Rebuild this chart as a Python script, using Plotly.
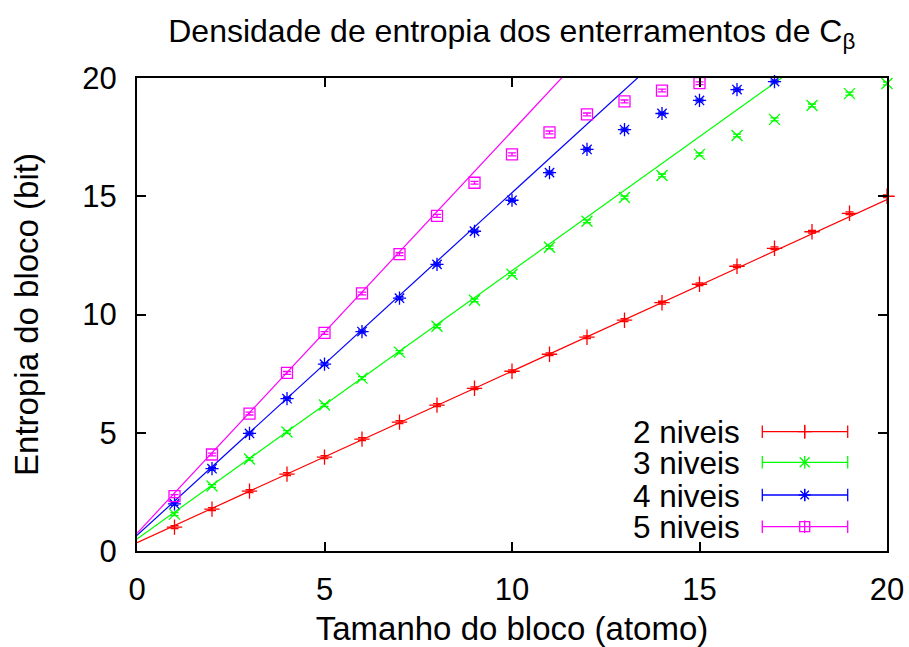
import plotly.graph_objects as go

# Block sizes (atoms)
block_size = list(range(1, 21))

# Measured block entropy (bit) per number of levels
entropy_2 = [1.01, 1.77, 2.53, 3.25, 3.97, 4.73, 5.45, 6.17, 6.88, 7.60,
             8.32, 9.04, 9.76, 10.50, 11.28, 12.04, 12.80, 13.50, 14.28, 15.00]
entropy_3 = [1.56, 2.75, 3.89, 5.03, 6.17, 7.31, 8.41, 9.50, 10.60, 11.70,
             12.84, 13.94, 14.95, 15.88, 16.77, 17.57, 18.25, 18.84, 19.34, 19.77]
entropy_4 = [1.99, 3.48, 4.97, 6.44, 7.90, 9.28, 10.69, 12.12, 13.52, 14.83,
             16.00, 16.98, 17.82, 18.50, 19.05, 19.51, 19.85]
entropy_5 = [2.32, 4.08, 5.81, 7.53, 9.22, 10.89, 12.55, 14.17, 15.57, 16.77,
             17.70, 18.46, 19.01, 19.47, 19.78]

# Linear fits: (intercept, slope)
fit_2 = (0.35, 0.7255)
fit_3 = (0.51, 1.134)
fit_4 = (0.66, 1.449)
fit_5 = (0.75, 1.700)

series_labels = ["2 niveis", "3 niveis", "4 niveis", "5 niveis"]
err_bar = 0.06

FONT = "Liberation Sans, Arial, Helvetica, sans-serif"
FS = 31

series = [
    (entropy_2, fit_2, "#ff0000", "cross-thin-open"),
    (entropy_3, fit_3, "#00ff00", "x-thin-open"),
    (entropy_4, fit_4, "#0000ff", "asterisk-open"),
    (entropy_5, fit_5, "#ff00ff", "square-open"),
]

fig = go.Figure()

fit_x = [0, 20]
for vals, (a, b), color, sym in series:
    xs = block_size[:len(vals)]
    fig.add_trace(go.Scatter(
        x=xs, y=vals, mode="markers",
        marker=dict(symbol=sym, size=11, color=color, line=dict(color=color, width=1.3)),
        error_y=dict(type="constant", value=err_bar, color=color, thickness=1.3, width=4),
        showlegend=False, cliponaxis=False,
    ))
    fig.add_trace(go.Scatter(
        x=fit_x, y=[a + b * v for v in fit_x], mode="lines",
        line=dict(color=color, width=1.2), showlegend=False,
    ))

# Key drawn on a pixel-scaled overlay axis
key_rows = [431.7, 462.3, 495.0, 526.7]
key_x0, key_x1, key_mid = 762.3, 847.7, 804.7
for (vals, fit, color, sym), label, ky in zip(series, series_labels, key_rows):
    fig.add_trace(go.Scatter(
        x=[key_x0, key_x1], y=[ky, ky], mode="lines",
        line=dict(color=color, width=1.3), xaxis="x2", yaxis="y2",
        showlegend=False, cliponaxis=False,
    ))
    fig.add_trace(go.Scatter(
        x=[key_x0, key_mid, key_x1], y=[ky, ky, ky], mode="markers",
        marker=dict(symbol="line-ns", size=9, color=color, line=dict(color=color, width=1.3)),
        xaxis="x2", yaxis="y2", showlegend=False, cliponaxis=False,
    ))
    fig.add_trace(go.Scatter(
        x=[key_mid], y=[ky], mode="markers",
        marker=dict(symbol=sym, size=10, color=color, line=dict(color=color, width=1.3)),
        xaxis="x2", yaxis="y2", showlegend=False, cliponaxis=False,
    ))
    fig.add_annotation(
        x=741.7, y=ky, xref="x2", yref="y2", text=label, showarrow=False,
        xanchor="right", yanchor="middle", height=29, valign="middle",
        font=dict(family=FONT, size=31.5, color="black"),
    )

axis_common = dict(
    showgrid=False, zeroline=False, showline=True, linecolor="black", linewidth=2,
    mirror="ticks", ticks="inside", ticklen=9, tickwidth=1.5, tickcolor="black",
    tickfont=dict(family=FONT, size=FS, color="black"), automargin=False,
)

fig.update_layout(
    width=909, height=647,
    margin=dict(l=137, r=22, t=78, b=96),
    paper_bgcolor="white", plot_bgcolor="white",
    title=dict(text="Densidade de entropia dos enterramentos de C<sub>β</sub>",
               x=0.563, xanchor="center", y=0.952, yanchor="middle",
               font=dict(family=FONT, size=32, color="black")),
    xaxis=dict(range=[0, 20], tickvals=[0, 5, 10, 15, 20], ticklabelstandoff=10,
               title=dict(text="Tamanho do bloco (atomo)", standoff=16,
                          font=dict(family=FONT, size=33, color="black")),
               **axis_common),
    yaxis=dict(range=[0, 20], tickvals=[0, 5, 10, 15, 20], ticklabelstandoff=12,
               title=dict(text="Entropia do bloco (bit)", standoff=34,
                          font=dict(family=FONT, size=33, color="black")),
               **axis_common),
    xaxis2=dict(overlaying="x", range=[137, 887], visible=False, fixedrange=True),
    yaxis2=dict(overlaying="y", range=[551, 78], visible=False, fixedrange=True),
)

fig.write_html("out.html")
